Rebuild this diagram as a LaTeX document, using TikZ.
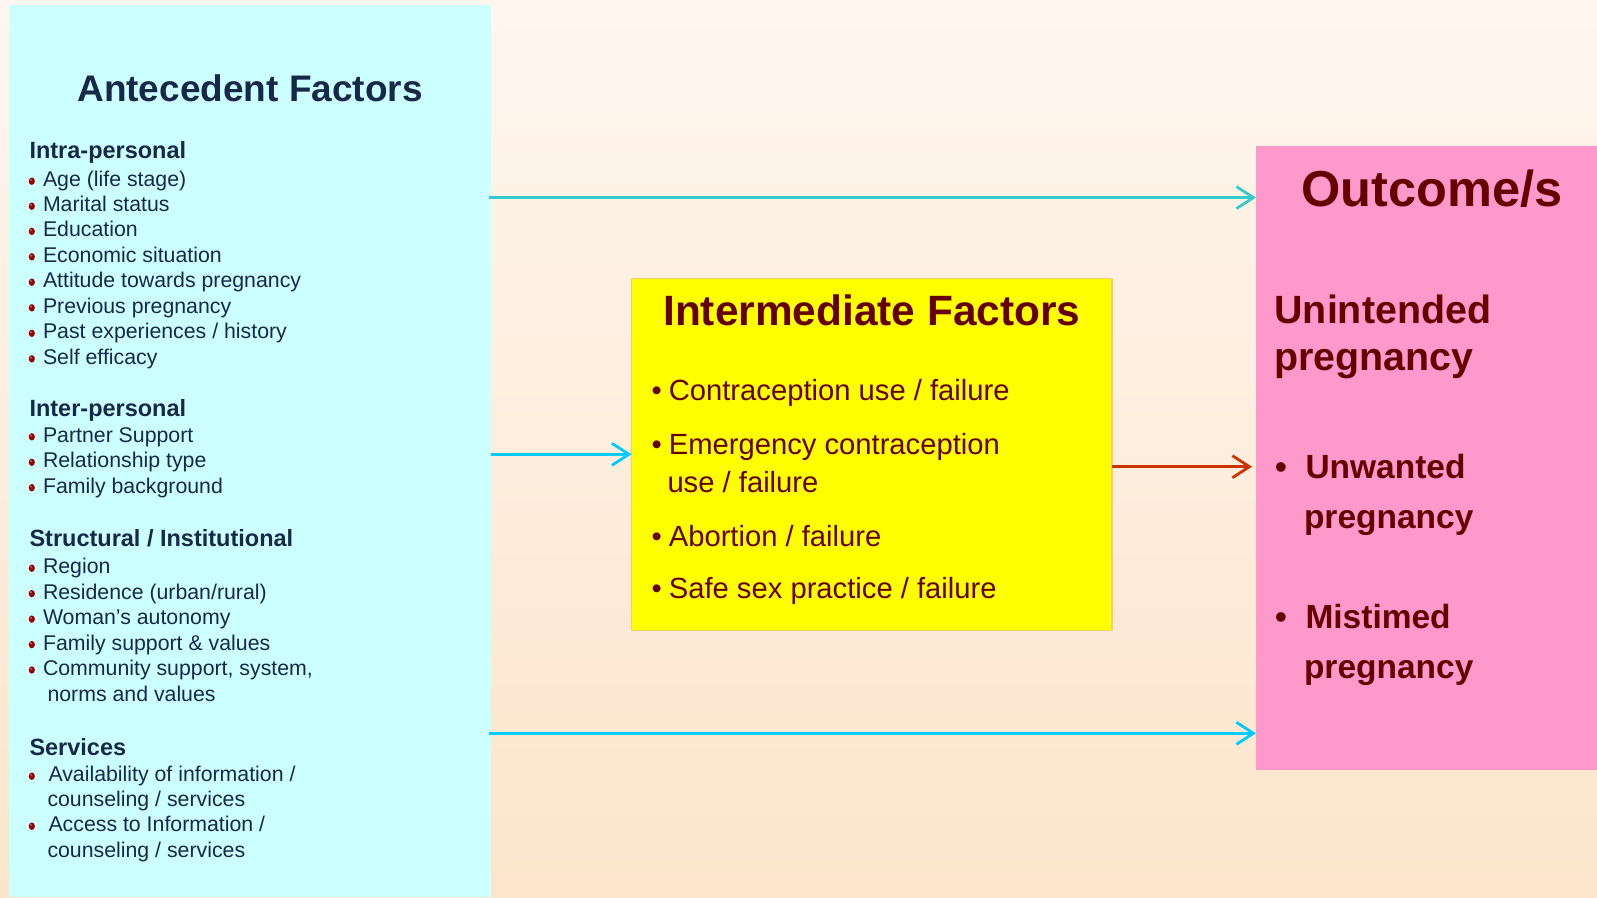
\documentclass[tikz,border=0pt]{standalone}
\usepackage{fontspec}
\setmainfont{Liberation Sans}
\usetikzlibrary{arrows.meta}
\definecolor{bgtop}{HTML}{FFF6EF}
\definecolor{bgbot}{HTML}{FCE5CB}
\definecolor{cyanpanel}{HTML}{CCFFFF}
\definecolor{navy}{HTML}{172848}
\definecolor{maroon}{HTML}{660000}
\definecolor{yel}{HTML}{FFFF00}
\definecolor{yelborder}{HTML}{F5CF6A}
\definecolor{pinkbox}{HTML}{FF99CC}
\definecolor{turq}{HTML}{33CCCC}
\definecolor{sky}{HTML}{00CCFF}
\definecolor{redarr}{HTML}{CC3300}
\definecolor{balldot}{HTML}{9A0000}
\tikzset{
  box/.style={rectangle, inner sep=0pt, outer sep=0pt},
  txt/.style={anchor=base west, inner sep=0pt, outer sep=0pt},
  lhead/.style={txt, text=navy, font=\fontsize{23.5}{28}\selectfont\bfseries},
  litem/.style={txt, text=navy, font=\fontsize{21.3}{25.2}\selectfont},
  ititem/.style={txt, text=maroon, font=\fontsize{29.2}{38.7}\selectfont},
  ibullet/.style={anchor=base, inner sep=0pt, text=maroon, font=\fontsize{29.2}{35}\selectfont},
  otitle/.style={txt, text=maroon, font=\fontsize{39.4}{46.7}\selectfont\bfseries},
  oitem/.style={txt, text=maroon, font=\fontsize{33.5}{50}\selectfont\bfseries},
  obullet/.style={anchor=base, inner sep=0pt, text=maroon, font=\fontsize{33.5}{40}\selectfont\bfseries},
  arrline/.style={line width=2.8pt, -{Straight Barb[length=17pt,width=22pt]}},
}
\newcommand\reddot[1]{\fill[balldot] (31.8,#1) ellipse [x radius=3.1pt, y radius=3.7pt];
  \fill[white, opacity=0.35] (31.0,#1-1.2) ellipse [x radius=1.1pt, y radius=1.3pt];}
\begin{document}
\begin{tikzpicture}[x=1pt,y=-1pt]
\useasboundingbox (0,0) rectangle (1597,897);
\shade[top color=bgtop, bottom color=bgbot] (0,0) rectangle (1597,897);

% panels
\node[box, fill=cyanpanel, minimum width=482pt, minimum height=892pt] (ante) at (250,451) {};
\node[box, fill=yel, draw=yelborder, line width=1.5pt, minimum width=480.7pt, minimum height=352.2pt] (inter) at (871.85,454.4) {};
\node[box, fill=pinkbox, minimum width=341pt, minimum height=624.3pt] (out) at (1426.5,457.85) {};

% antecedent text
\node[anchor=base, inner sep=0pt, text=navy, font=\fontsize{37}{44}\selectfont\bfseries] (antetitle) at (250,101.7) {Antecedent Factors};

\node[lhead] (h1) at (29.5,158.3) {Intra-personal};
\node[litem] (a1) at (43,186.7) {Age (life stage)};
\node[litem] (a2) at (43,211.7) {Marital status};
\node[litem] (a3) at (43,236.9) {Education};
\node[litem] (a4) at (43,262.3) {Economic situation};
\node[litem] (a5) at (43,287.7) {Attitude towards pregnancy};
\node[litem] (a6) at (43,313.3) {Previous pregnancy};
\node[litem] (a7) at (43,338.8) {Past experiences / history};
\node[litem] (a8) at (43,364.3) {Self efficacy};
\foreach \y in {186.7,211.7,236.9,262.3,287.7,313.3,338.8,364.3} {\reddot{\y-5.5}}

\node[lhead] (h2) at (29.5,416) {Inter-personal};
\node[litem] (b1) at (43,442.3) {Partner Support};
\node[litem] (b2) at (43,467.8) {Relationship type};
\node[litem] (b3) at (43,493.2) {Family background};
\foreach \y in {442.3,467.8,493.2} {\reddot{\y-5.5}}

\node[lhead] (h3) at (29.5,546.4) {Structural / Institutional};
\node[litem] (c1) at (43,573.7) {Region};
\node[litem] (c2) at (43,599.1) {Residence (urban/rural)};
\node[litem] (c3) at (43,624.6) {Woman’s autonomy};
\node[litem] (c4) at (43,650.1) {Family support \& values};
\node[litem] (c5) at (43,675.5) {Community support, system,};
\node[litem] (c5b) at (47.5,701) {norms and values};
\foreach \y in {573.7,599.1,624.6,650.1,675.5} {\reddot{\y-5.5}}

\node[lhead] (h4) at (29.5,755) {Services};
\node[litem] (d1) at (48.5,781.7) {Availability of information /};
\node[litem] (d1b) at (47.5,806.7) {counseling / services};
\node[litem] (d2) at (48.5,831.7) {Access to Information /};
\node[litem] (d2b) at (47.5,857.3) {counseling / services};
\foreach \y in {781.7,831.7} {\reddot{\y-5.5}}

% intermediate text
\node[anchor=base, inner sep=0pt, text=maroon, font=\fontsize{42.4}{50}\selectfont\bfseries] (intertitle) at (871.8,325) {Intermediate Factors};
\node[ititem] (i1) at (668.8,400.7) {Contraception use / failure};
\node[ititem] (i2) at (668.8,454) {Emergency contraception};
\node[ititem] (i2b) at (667.5,492.7) {use / failure};
\node[ititem] (i3) at (668.8,546) {Abortion / failure};
\node[ititem] (i4) at (668.8,598.3) {Safe sex practice / failure};
\node[ibullet] (ib1) at (656.7,400.7) {•};
\node[ibullet] (ib2) at (656.7,454) {•};
\node[ibullet] (ib3) at (656.7,546) {•};
\node[ibullet] (ib4) at (656.7,598.3) {•};

% outcome text
\node[anchor=base, inner sep=0pt, text=maroon, font=\fontsize{50.5}{60}\selectfont\bfseries] (outtitle) at (1431.7,206) {Outcome/s};
\node[otitle] (o0) at (1274.5,323.3) {Unintended};
\node[otitle] (o0b) at (1274.5,370) {pregnancy};
\node[oitem] (o1) at (1305.5,478.3) {Unwanted};
\node[oitem] (o1b) at (1304,528.3) {pregnancy};
\node[oitem] (o2) at (1305.5,628.3) {Mistimed};
\node[oitem] (o2b) at (1304,678.3) {pregnancy};
\node[obullet] (ob1) at (1281,478.3) {•};
\node[obullet] (ob2) at (1281,628.3) {•};

% connectors
\coordinate (yt) at (0,197.6);
\coordinate (ym) at (0,454.3);
\coordinate (yr) at (0,466.7);
\coordinate (yb) at (0,733.3);
\draw[arrline, turq] ([xshift=-2pt]ante.east |- yt) -- (out.west |- yt);
\draw[arrline, sky] (ante.east |- ym) -- (inter.west |- ym);
\draw[arrline, redarr] (inter.east |- yr) -- ([xshift=-4pt]out.west |- yr);
\draw[arrline, sky] ([xshift=-2pt]ante.east |- yb) -- (out.west |- yb);
\end{tikzpicture}
\end{document}
